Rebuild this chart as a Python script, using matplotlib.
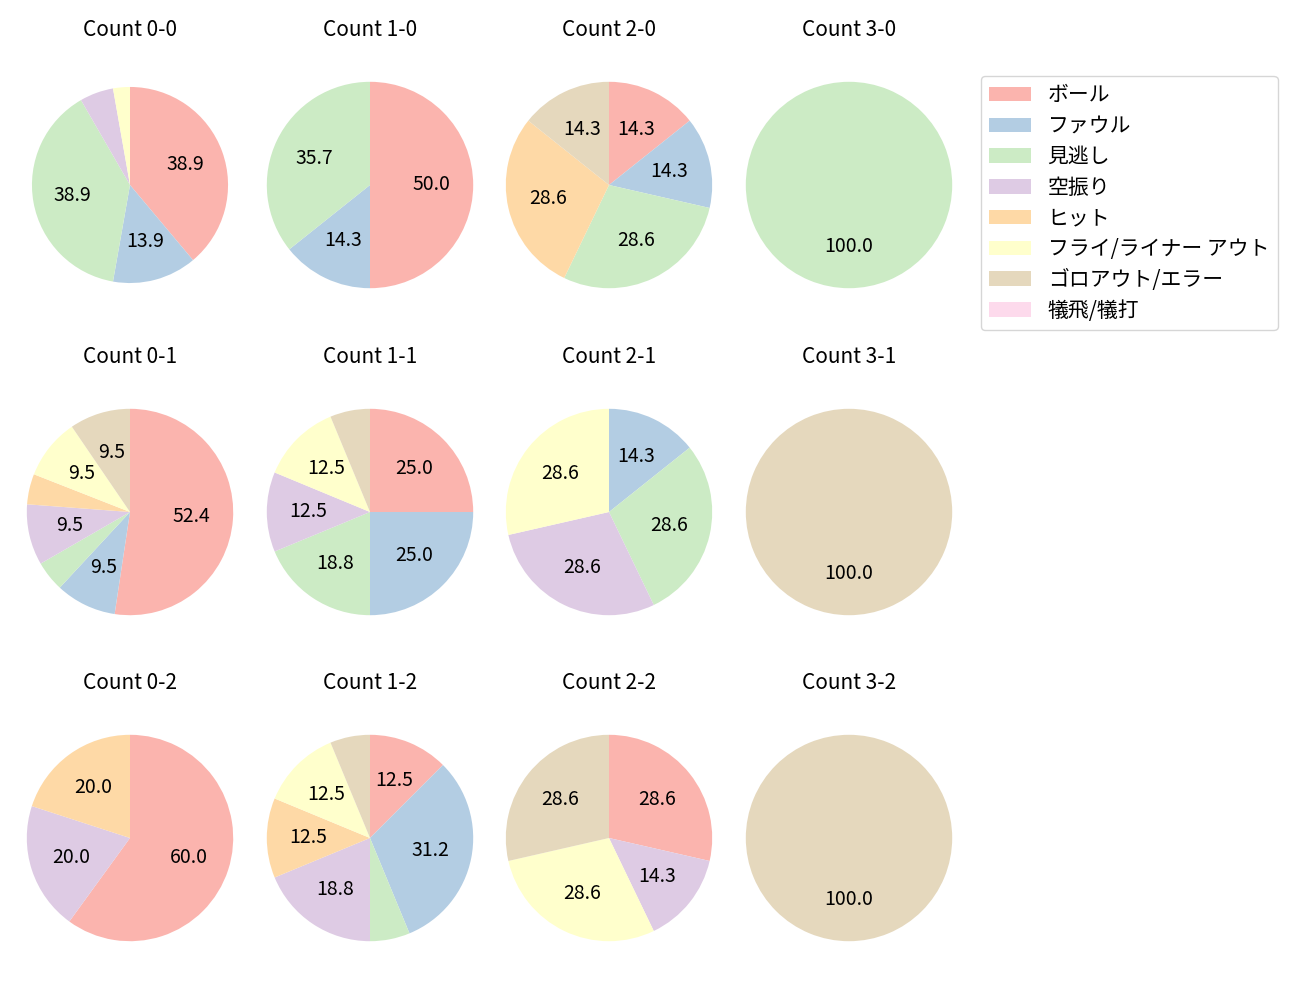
import matplotlib
matplotlib.use("Agg")
import matplotlib.pyplot as plt
import numpy as np

plt.rcParams['font.family'] = ['Noto Sans CJK JP', 'DejaVu Sans']

categories = ['ボール', 'ファウル', '見逃し', '空振り', 'ヒット',
              'フライ/ライナー アウト', 'ゴロアウト/エラー', '犠飛/犠打']
colors = ['#fbb4ae', '#b3cde3', '#ccebc5', '#decbe4', '#fed9a6',
          '#ffffcc', '#e5d8bd', '#fddaec']

# counts per category for each ball-strike count
count_0_0 = [14, 5, 14, 2, 0, 1, 0, 0]
count_1_0 = [7, 2, 5, 0, 0, 0, 0, 0]
count_2_0 = [1, 1, 2, 0, 2, 0, 1, 0]
count_3_0 = [0, 0, 1, 0, 0, 0, 0, 0]
count_0_1 = [11, 2, 1, 2, 1, 2, 2, 0]
count_1_1 = [4, 4, 3, 2, 0, 2, 1, 0]
count_2_1 = [0, 1, 2, 2, 0, 2, 0, 0]
count_3_1 = [0, 0, 0, 0, 0, 0, 1, 0]
count_0_2 = [3, 0, 0, 1, 1, 0, 0, 0]
count_1_2 = [2, 5, 1, 3, 2, 2, 1, 0]
count_2_2 = [2, 0, 0, 1, 0, 2, 2, 0]
count_3_2 = [0, 0, 0, 0, 0, 0, 1, 0]

grid = [
    [('Count 0-0', count_0_0), ('Count 1-0', count_1_0), ('Count 2-0', count_2_0), ('Count 3-0', count_3_0)],
    [('Count 0-1', count_0_1), ('Count 1-1', count_1_1), ('Count 2-1', count_2_1), ('Count 3-1', count_3_1)],
    [('Count 0-2', count_0_2), ('Count 1-2', count_1_2), ('Count 2-2', count_2_2), ('Count 3-2', count_3_2)],
]

W, H = 1300, 1000
fig = plt.figure(figsize=(13, 10), dpi=100)

col_cx = [130, 370, 609, 849]
row_cy = [185, 512, 838]
size = 258

def fmt(p):
    return f'{p:.1f}' if p >= 8 else ''

handles = None
for r, row in enumerate(grid):
    for c, (title, vals) in enumerate(row):
        cx, cy = col_cx[c], row_cy[r]
        ax = fig.add_axes([(cx - size / 2) / W, 1 - (cy + size / 2) / H, size / W, size / H])
        vals = np.array(vals, dtype=float)
        rad = 0.95 if (r == 0 and c == 0) else 1.0
        wedges, texts, autotexts = ax.pie(vals, colors=colors, startangle=90,
                                          counterclock=False, autopct=fmt,
                                          pctdistance=0.6, radius=rad,
                                          textprops={'fontsize': 14})
        ax.set_xlim(-1.25, 1.25)
        ax.set_ylim(-1.25, 1.25)
        ax.set_title(title, fontsize=15, pad=14.5)
        if handles is None:
            handles = wedges

fig.legend(handles, categories, loc='upper left',
           bbox_to_anchor=(981 / W, 1 - 76 / H), borderaxespad=0,
           fontsize=15, labelspacing=0.42, frameon=True)

fig.savefig('out.png', dpi=100)
